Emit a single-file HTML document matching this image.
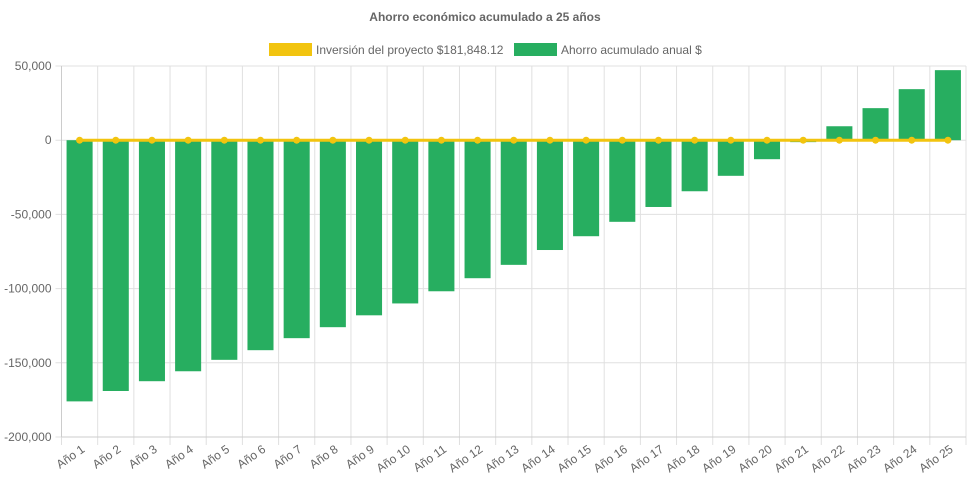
<!DOCTYPE html>
<html><head><meta charset="utf-8"><style>
body{margin:0;background:#fff;font-family:"Liberation Sans",Arial,sans-serif}
svg{display:block}
</style></head><body>
<svg id="chart" width="971" height="485" xmlns="http://www.w3.org/2000/svg">
<text x="485" y="21" text-anchor="middle" font-size="12" font-weight="bold" fill="#666">Ahorro económico acumulado a 25 años</text>
<g>
<g><rect x="269" y="43" width="43" height="13" fill="#f2c40f"/><text x="316" y="54" font-size="12" fill="#666">Inversión del proyecto $181,848.12</text></g>
<g><rect x="514" y="43" width="43" height="13" fill="#27ae60"/><text x="561" y="54" font-size="12" fill="#666">Ahorro acumulado anual $</text></g>
</g>
<g id="grid"></g><g id="bars"></g><g id="line"></g><g id="axes"></g>
</svg>
<script>
const categories=["Año 1","Año 2","Año 3","Año 4","Año 5","Año 6","Año 7","Año 8","Año 9","Año 10","Año 11","Año 12","Año 13","Año 14","Año 15","Año 16","Año 17","Año 18","Año 19","Año 20","Año 21","Año 22","Año 23","Año 24","Año 25"];
const savings=[-176000,-169000,-162400,-155700,-148000,-141500,-133400,-126000,-118000,-110000,-101800,-93000,-84000,-74000,-64700,-55000,-45000,-34400,-24000,-12800,-1300,9400,21600,34400,47200];
const investment=[0,0,0,0,0,0,0,0,0,0,0,0,0,0,0,0,0,0,0,0,0,0,0,0,0];
const yTicks=[50000,0,-50000,-100000,-150000,-200000];
const yTickLabels=["50,000","0","-50,000","-100,000","-150,000","-200,000"];
const NS="http://www.w3.org/2000/svg";
const L=61.5,R=966,T=66,B=437,yMax=50000,yMin=-200000;
const cw=(R-L)/categories.length;
const y=v=>T+(yMax-v)/(yMax-yMin)*(B-T);
const xc=i=>L+cw*(i+0.5);
function mk(tag,attrs,parent){const e=document.createElementNS(NS,tag);for(const k in attrs)e.setAttribute(k,attrs[k]);parent.appendChild(e);return e;}
const grid=document.getElementById('grid'),bars=document.getElementById('bars'),line=document.getElementById('line'),axes=document.getElementById('axes');
yTicks.forEach((t,i)=>{
  const g=mk('line',{x1:L-6,x2:R,y1:y(t),y2:y(t),stroke:'#e0e0e0','stroke-width':1},grid);
  
  
  const tx=mk('text',{x:L-10,y:y(t)+4,'text-anchor':'end','font-size':12,fill:'#666'},axes);
  tx.textContent=yTickLabels[i];
  
  
});
for(let i=0;i<=categories.length;i++){
  const gx=L+cw*i;
  const g=mk('line',{x1:gx,x2:gx,y1:T,y2:B+8,stroke:'#e0e0e0','stroke-width':1},grid);
  
  
}
mk('line',{x1:L,x2:L,y1:T,y2:B,stroke:'#ccc'},axes);
mk('line',{x1:L,x2:R,y1:B,y2:B,stroke:'#ccc'},axes);
const bw=cw*0.72;
savings.forEach((v,i)=>{
  const y0=y(0),y1=y(v);
  const r=mk('rect',{x:xc(i)-bw/2,y:Math.min(y0,y1),width:bw,height:Math.abs(y1-y0),fill:'#27ae60'},bars);
  
  
  const tx=mk('text',{x:0,y:0,'text-anchor':'end','font-size':12,fill:'#666',transform:`translate(${xc(i)+6},${B+14}) rotate(-35)`},axes);
  tx.textContent=categories[i];
  
  
});
const pts=investment.map((v,i)=>xc(i)+','+y(v)).join(' ');
const pl=mk('polyline',{points:pts,fill:'none',stroke:'#f2c40f','stroke-width':3},line);


investment.forEach((v,i)=>{
  const c=mk('circle',{cx:xc(i),cy:y(v),r:3.5,fill:'#f2c40f'},line);
  
  
});
</script>
</body></html>
